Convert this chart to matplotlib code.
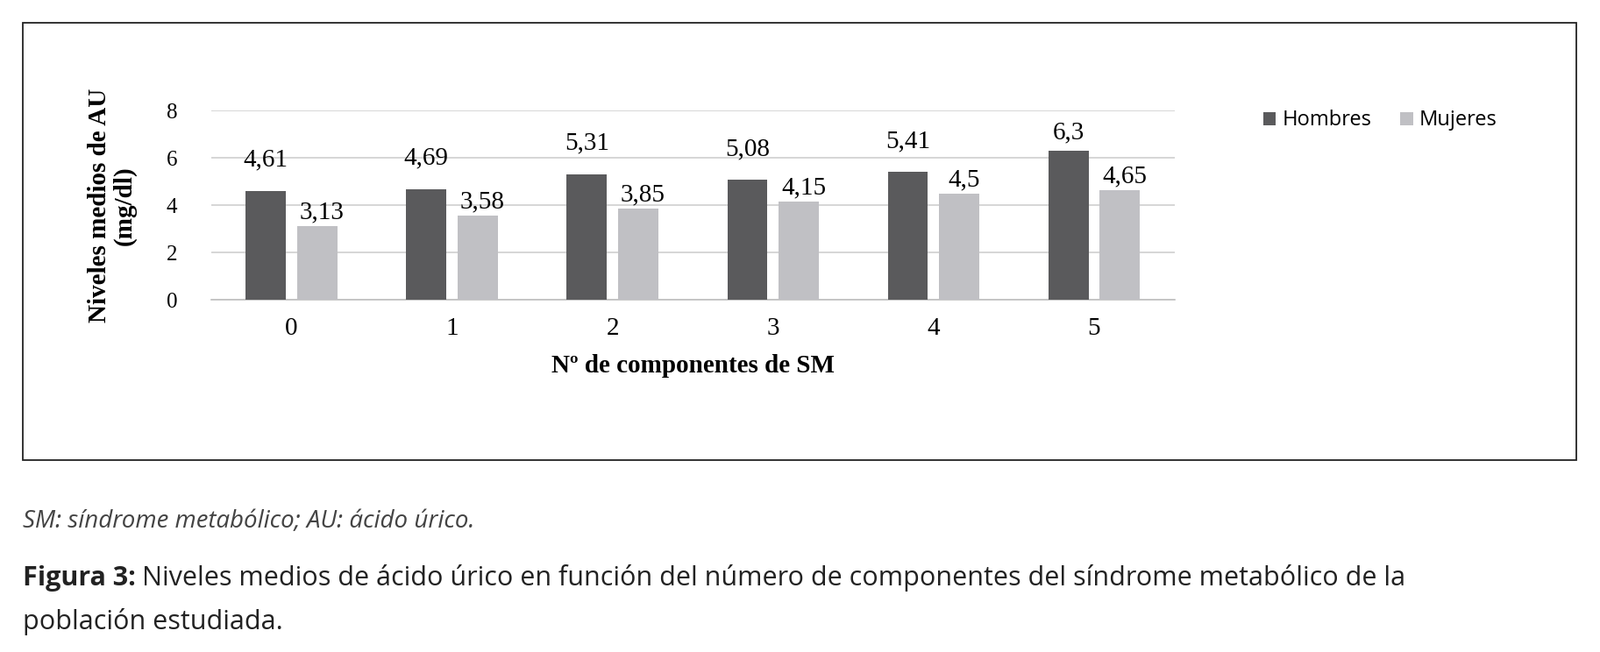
import matplotlib
matplotlib.use("Agg")
import matplotlib.pyplot as plt
from matplotlib.patches import Rectangle
import numpy as np

categories = ["0", "1", "2", "3", "4", "5"]
hombres = [4.61, 4.69, 5.31, 5.08, 5.41, 6.3]
mujeres = [3.13, 3.58, 3.85, 4.15, 4.5, 4.65]
hombres_lbl = ["4,61", "4,69", "5,31", "5,08", "5,41", "6,3"]
mujeres_lbl = ["3,13", "3,58", "3,85", "4,15", "4,5", "4,65"]

DARK = "#5A5A5C"
LIGHT = "#C0C0C4"
SERIF = "Liberation Serif"
SANS = "Open Sans"

fig = plt.figure(figsize=(18.25, 7.44), dpi=100, facecolor="white")

# outer frame
fig.patches.append(Rectangle((0.014, 0.295), 0.971, 0.67, transform=fig.transFigure,
                             fill=False, edgecolor="#222222", linewidth=1.3))

ax = fig.add_axes([0.132, 0.54, 0.602, 0.29])
x = np.arange(len(categories))
w = 0.25
ax.bar(x - 0.16, hombres, w, color=DARK, label="Hombres", zorder=3)
ax.bar(x + 0.16, mujeres, w, color=LIGHT, label="Mujeres", zorder=3)
for i in range(len(categories)):
    ax.annotate(hombres_lbl[i], (x[i] - 0.16, hombres[i]), xytext=(0, 16 if i < 5 else 6),
                textcoords="offset points", ha="center", va="bottom",
                fontsize=21, family=SERIF)
    ax.annotate(mujeres_lbl[i], (x[i] + 0.16, mujeres[i]), xytext=(4, 2),
                textcoords="offset points", ha="center", va="bottom",
                fontsize=21, family=SERIF)

ax.set_ylim(0, 8)
ax.set_xlim(-0.5, 5.5)
ax.set_yticks([0, 2, 4, 6, 8])
ax.yaxis.grid(True, color="#D0D0D0", linewidth=1.2, zorder=0)
for s in ["top", "right", "left"]:
    ax.spines[s].set_visible(False)
ax.spines["bottom"].set_color("#BFBFBF")
ax.spines["bottom"].set_linewidth(1.2)
ax.tick_params(axis="y", length=0, pad=28)
ax.tick_params(axis="x", length=0, pad=14)
ax.set_xticks(x)
ax.set_xticklabels(categories, fontsize=21, family=SERIF)
for t in ax.get_yticklabels():
    t.set_fontsize(18)
    t.set_family(SERIF)
ax.set_xlabel("Nº de componentes de SM", fontsize=21, family=SERIF,
              fontweight="bold", labelpad=12)
ax.set_ylabel("Niveles medios de AU\n(mg/dl)", fontsize=21, family=SERIF,
              fontweight="bold", labelpad=24, linespacing=1.1)

fig.legend(loc="upper left", bbox_to_anchor=(0.778, 0.86), ncol=2, frameon=False,
           prop={"family": SANS, "size": 17}, handlelength=0.6, handleheight=0.6,
           handletextpad=0.3, columnspacing=1.4)

fig.text(0.014, 0.2, "SM: síndrome metabólico; AU: ácido úrico.", fontsize=20,
         family=SANS, style="italic", color="#444444", va="center")
bold = fig.text(0.014, 0.113, "Figura 3:", fontsize=22, family=SANS,
                fontweight="bold", color="#222222", va="center")
fig.canvas.draw()
bb = bold.get_window_extent().transformed(fig.transFigure.inverted())
fig.text(bb.x1 + 0.004, 0.113,
         "Niveles medios de ácido úrico en función del número de componentes del síndrome metabólico de la",
         fontsize=22, family=SANS, color="#222222", va="center")
fig.text(0.014, 0.047, "población estudiada.", fontsize=22, family=SANS,
         color="#222222", va="center")

fig.savefig("out.png", dpi=100, facecolor="white")
